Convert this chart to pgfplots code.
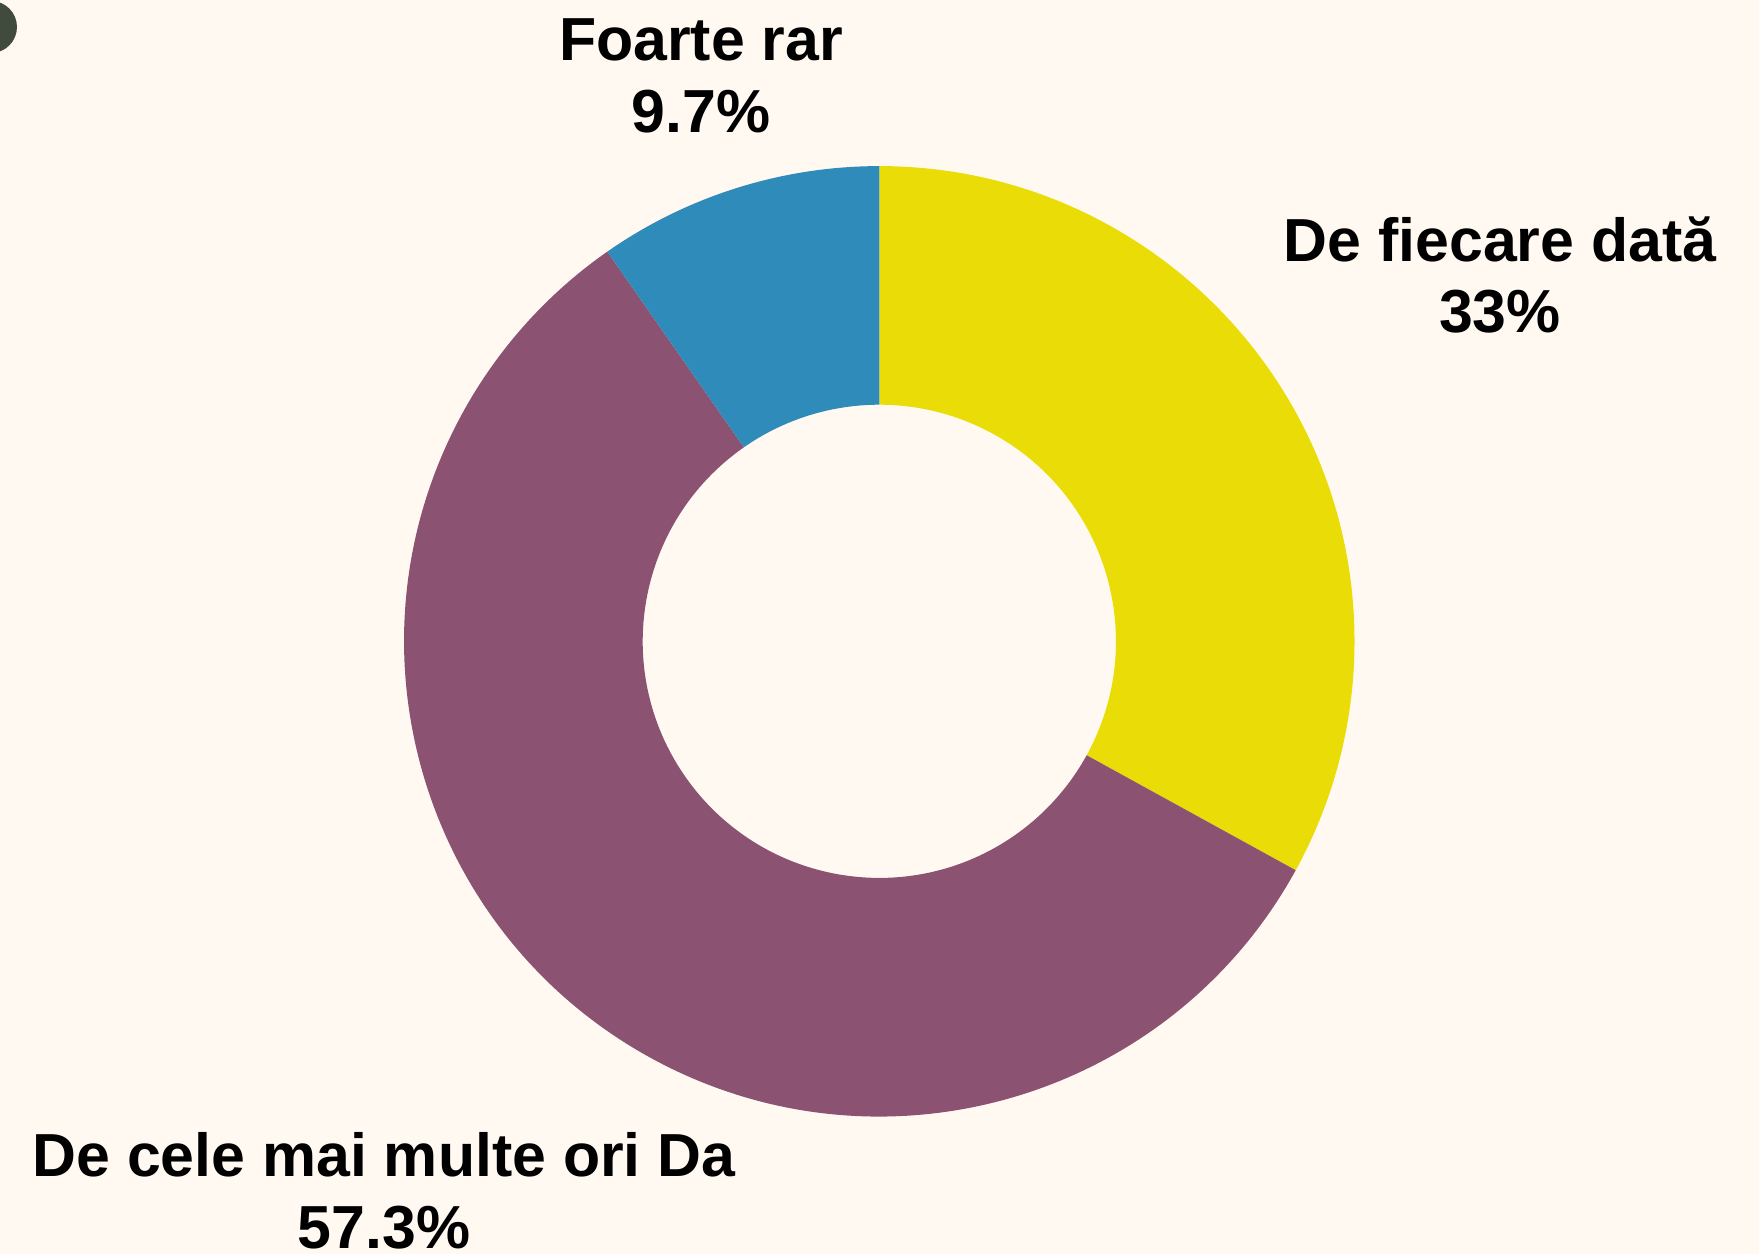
\documentclass[border=0pt]{standalone}
\usepackage{pgfplots}
\pgfplotsset{compat=1.18}
\usepackage{fontspec}
\setmainfont{Liberation Sans}
\definecolor{bgc}{HTML}{FFF9F2}
\definecolor{c-yellow}{HTML}{EADC07}
\definecolor{c-purple}{HTML}{8B5371}
\definecolor{c-blue}{HTML}{2E8BBA}
\definecolor{c-dark}{HTML}{414B3D}

\begin{document}
\begin{tikzpicture}
    % canvas: 1 px of the reference = 0.5pt
    \fill[bgc] (0,0) rectangle (879.5pt,627pt);
    \begin{axis}[name=ax, at={(0,0)}, anchor=south west,
        width=879.5pt, height=627pt, scale only axis, hide axis,
        xmin=0, xmax=1759, ymin=0, ymax=1254]
        % donut, clockwise from the top: value/colour
        \pgfplotsextra{
            \foreach \v/\c [evaluate=\v as \e using {\s-3.6*\v}, remember=\e as \s (initially 90)]
                in {33.0/c-yellow, 57.3/c-purple, 9.7/c-blue} {
                \fill[\c, shift={(axis cs:879.3,612.7)}]
                    (\s:237.6pt) arc[start angle=\s, end angle=\e, radius=237.6pt]
                    -- (\e:118.3pt) arc[start angle=\e, end angle=\s, radius=118.3pt] -- cycle;
            }
            \fill[c-dark] (axis cs:-9,1227) circle[radius=13pt];
        }
        \begin{scope}[every node/.style={anchor=base, inner sep=0pt,
                font=\fontsize{30.4}{36}\selectfont\bfseries}]
            \node at (axis cs:701,1193) {Foarte rar};
            \node at (axis cs:701,1121) {9.7\%};
            \node at (axis cs:1500,992.6) {De fiecare dată};
            \node at (axis cs:1500,921) {33\%};
            \node at (axis cs:384,78) {De cele mai multe ori Da};
            \node at (axis cs:384,6) {57.3\%};
        \end{scope}
    \end{axis}
    \pgfresetboundingbox
    \useasboundingbox (0,0) rectangle (879.5pt,627pt);
\end{tikzpicture}
\end{document}
